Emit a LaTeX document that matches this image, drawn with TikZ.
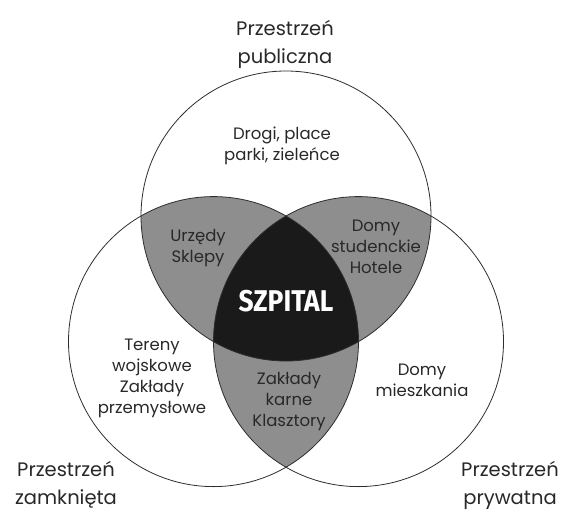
\documentclass[tikz,border=0pt]{standalone}
\usepackage{fontspec}
\setmainfont{Poppins}
\newfontfamily\capsfont[FakeStretch=0.88]{Fira Sans}
\definecolor{lens}{RGB}{142,142,142}
\definecolor{core}{RGB}{26,26,26}
\definecolor{edge}{RGB}{45,45,45}
\definecolor{ink}{RGB}{40,40,40}
\begin{document}
\begin{tikzpicture}[x=1pt,y=-1pt,
  ring/.style={draw=edge, line width=0.8pt},
  inner/.style={align=center, text=ink, font=\fontsize{16.5}{21}\selectfont, inner sep=0pt},
  outer/.style={align=center, text=ink, font=\fontsize{19.5}{28}\selectfont, inner sep=0pt},
  core label/.style={text=white, font=\capsfont\bfseries\fontsize{30}{34}\selectfont, inner sep=0pt}]
\useasboundingbox (0,0) rectangle (564,514);
\clip (0,0) rectangle (564,514);
\coordinate (T) at (286,216);
\coordinate (BL) at (213.5,341.6);
\coordinate (BR) at (358.5,341.6);
% pairwise intersections
\begin{scope}
  \clip (T) circle[radius=145pt];
  \fill[lens] (BL) circle[radius=145pt];
  \fill[lens] (BR) circle[radius=145pt];
\end{scope}
\begin{scope}
  \clip (BL) circle[radius=145pt];
  \fill[lens] (BR) circle[radius=145pt];
\end{scope}
% triple intersection
\begin{scope}
  \clip (T) circle[radius=145pt];
  \clip (BL) circle[radius=145pt];
  \fill[core] (BR) circle[radius=145pt];
\end{scope}
\draw[ring] (T) circle[radius=145pt];
\draw[ring] (BL) circle[radius=145pt];
\draw[ring] (BR) circle[radius=145pt];
% labels
\node[outer] (pub) at (285,44) {Przestrzeń\\publiczna};
\node[outer] (zam) at (66,485) {Przestrzeń\\zamknięta};
\node[outer] (pry) at (510,485) {Przestrzeń\\prywatna};
\node[inner] (drogi) at (282,146) {Drogi, place\\parki, zieleńce};
\node[inner] (urz) at (198,248) {Urzędy\\Sklepy};
\node[inner] (stud) at (376,247) {Domy\\studenckie\\Hotele};
\node[core label] (szp) at (286,301) {SZPITAL};
\node[inner] (ter) at (152,378) {Tereny\\wojskowe\\Zakłady\\przemysłowe};
\node[inner] (kar) at (289,402) {Zakłady\\karne\\Klasztory};
\node[inner] (miesz) at (422,380) {Domy\\mieszkania};
\end{tikzpicture}
\end{document}
